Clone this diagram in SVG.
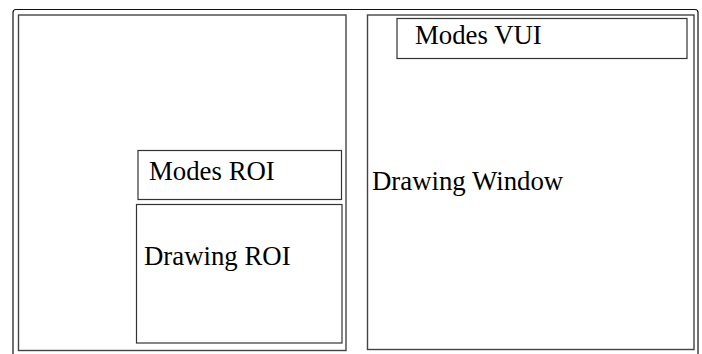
<svg xmlns="http://www.w3.org/2000/svg" width="702" height="354" viewBox="0 0 702 354">
<style>
.frame{fill:none;stroke:#111;stroke-width:1.2}
.panel{fill:none;stroke:#444;stroke-width:1.4}
.box{fill:none;stroke:#333;stroke-width:1.2}
.lbl{font-family:"Liberation Serif","Times New Roman",serif;font-size:26.8px;fill:#000}
</style>
<rect width="702" height="354" fill="#fff"/>
<g id="outer-frame">
<rect class="frame" x="13" y="9.5" width="685" height="360" rx="3"/>
</g>
<g id="left-panel">
<rect class="panel" x="18.5" y="15" width="327.5" height="335.5"/>
</g>
<g id="modes-roi">
<rect class="box" x="138" y="150.5" width="203.5" height="49"/>
<text class="lbl" x="149" y="179.5">Modes ROI</text>
</g>
<g id="drawing-roi">
<rect class="box" x="136.5" y="204.5" width="205.5" height="138.5"/>
<text class="lbl" x="144" y="264.5">Drawing ROI</text>
</g>
<g id="drawing-window">
<rect class="panel" x="367.5" y="15" width="326.5" height="334.5"/>
<text class="lbl" x="372" y="190">Drawing Window</text>
</g>
<g id="modes-vui">
<rect class="box" x="397" y="18.5" width="290" height="40"/>
<text class="lbl" x="415" y="44">Modes VUI</text>
</g>
<g id="connectors"/>
</svg>
